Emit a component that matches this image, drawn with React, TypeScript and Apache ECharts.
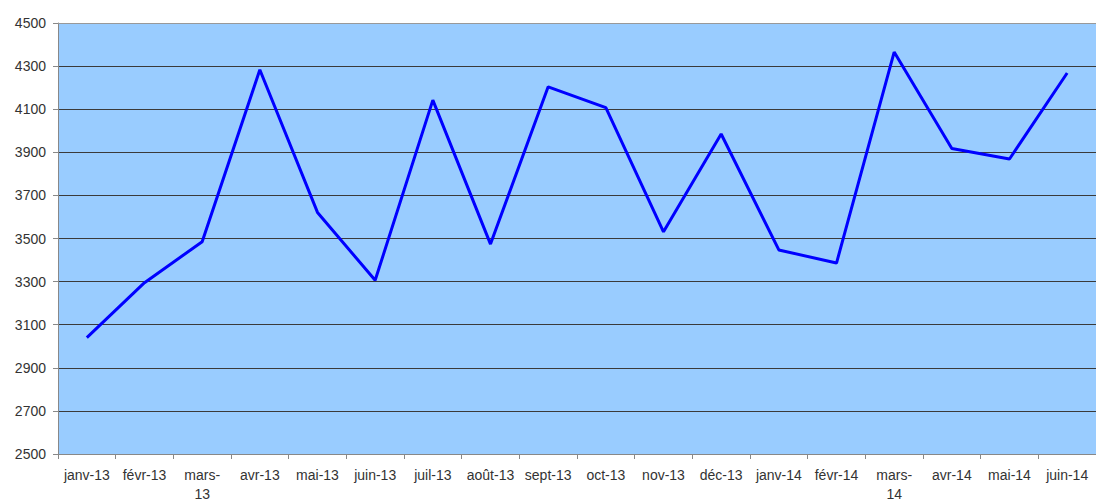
import React, { useEffect, useRef } from "react";
import * as echarts from "echarts";

const categories = [
  "janv-13", "févr-13", "mars-13", "avr-13", "mai-13", "juin-13",
  "juil-13", "août-13", "sept-13", "oct-13", "nov-13", "déc-13",
  "janv-14", "févr-14", "mars-14", "avr-14", "mai-14", "juin-14",
];
const values = [
  3040, 3295, 3485, 4283, 3621, 3306,
  4142, 3474, 4204, 4107, 3531, 3985,
  3447, 3386, 4365, 3918, 3869, 4268,
];
const yMin = 2500;
const yMax = 4500;
const yStep = 200;

export default function App() {
  const ref = useRef<HTMLDivElement>(null);
  useEffect(() => {
    if (!ref.current) return;
    const chart = echarts.init(ref.current, null, { renderer: "svg" });
    const font = "'Liberation Sans', Arial, sans-serif";
    chart.setOption({
      animation: false,
      grid: {
        left: 58,
        right: 0,
        top: 23,
        bottom: 50,
        show: true,
        backgroundColor: "#99CCFF",
        borderWidth: 0,
      },
      xAxis: [
        {
          type: "category",
          data: categories,
          boundaryGap: true,
          axisLine: { show: true, lineStyle: { color: "#888888", width: 1 } },
          axisTick: { show: true, length: 5, lineStyle: { color: "#888888" } },
          axisLabel: {
            interval: 0,
            margin: 11,
            fontSize: 14,
            lineHeight: 19,
            color: "#333333",
            fontFamily: font,
            formatter: (v: string) => (v.startsWith("mars-") ? v.replace("mars-", "mars-\n") : v),
          },
          splitLine: { show: false },
        },
        {
          type: "category",
          data: categories,
          position: "top",
          axisLine: { show: true, lineStyle: { color: "#999999", width: 1 } },
          axisTick: { show: false },
          axisLabel: { show: false },
        },
      ],
      yAxis: {
        type: "value",
        min: yMin,
        max: yMax,
        interval: yStep,
        axisLine: { show: true, lineStyle: { color: "#888888", width: 1 } },
        axisTick: { show: true, length: 5, lineStyle: { color: "#888888" } },
        axisLabel: {
          margin: 12,
          fontSize: 14,
          color: "#333333",
          fontFamily: font,
          formatter: (v: number) => String(v),
        },
        splitLine: {
          show: true,
          showMinLine: false,
          showMaxLine: false,
          lineStyle: { color: "#3a3a3a", width: 1 },
        },
      },
      series: [
        {
          type: "line",
          data: values,
          xAxisIndex: 0,
          showSymbol: false,
          symbol: "none",
          lineStyle: { color: "#0000FF", width: 3 },
          itemStyle: { color: "#0000FF" },
        },
      ],
    });
    return () => chart.dispose();
  }, []);
  return (
    <div
      ref={ref}
      style={{ position: "fixed", left: 0, top: 0, width: 1096, height: 504, background: "#ffffff" }}
    />
  );
}
